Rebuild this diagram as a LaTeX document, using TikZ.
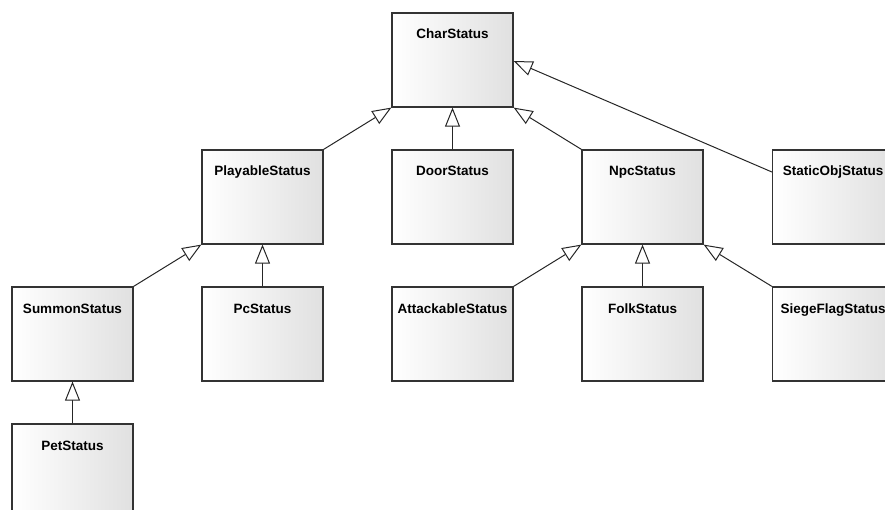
\documentclass[tikz,border=0pt]{standalone}
\usepackage{fontspec}
\setmainfont{Liberation Sans}
\usetikzlibrary{arrows.meta}

\tikzset{
  cls/.style={draw=black!80, line width=1.2pt, left color=white, right color=black!12,
    minimum width=121pt, minimum height=94pt, inner xsep=0pt, inner ysep=16.5pt,
    text height=9.5pt, text depth=51.5pt, font=\fontsize{13.5}{15}\selectfont\bfseries},
  inh/.style={line width=1pt, black!85, -{Triangle[length=19pt,width=15pt,fill=white]}}
}

\begin{document}
\begin{tikzpicture}[x=1pt,y=-1pt]
\useasboundingbox (0,0) rectangle (885,510);
% top
\node[cls] (cs) at (452.5,60) {CharStatus};
% second row
\node[cls] (ps) at (262.5,197) {PlayableStatus};
\node[cls] (ds) at (452.5,197) {DoorStatus};
\node[cls] (ns) at (642.5,197) {NpcStatus};
\node[cls] (so) at (833,197) {StaticObjStatus};
% third row
\node[cls] (ss) at (72.5,334) {SummonStatus};
\node[cls] (pc) at (262.5,334) {PcStatus};
\node[cls] (as) at (452.5,334) {AttackableStatus};
\node[cls] (fs) at (642.5,334) {FolkStatus};
\node[cls] (sf) at (833,334) {SiegeFlagStatus};
% last row
\node[cls] (pt) at (72.5,471) {PetStatus};
% inheritance
\draw[inh] (ps.north east) -- (cs.south west);
\draw[inh] (ds.north) -- (cs.south);
\draw[inh] (ns.north west) -- (cs.south east);
\draw[inh] ([yshift=25pt]so.west) -- ([yshift=-1pt]cs.east);
\draw[inh] (ss.north east) -- (ps.south west);
\draw[inh] (pc.north) -- (ps.south);
\draw[inh] (as.north east) -- (ns.south west);
\draw[inh] (fs.north) -- (ns.south);
\draw[inh] (sf.north west) -- (ns.south east);
\draw[inh] (pt.north) -- (ss.south);
\end{tikzpicture}
\end{document}
